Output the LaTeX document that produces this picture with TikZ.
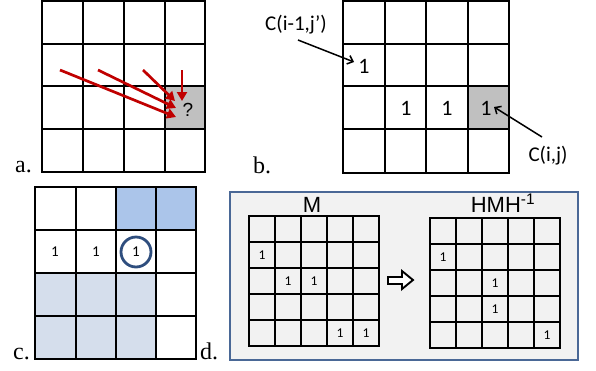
\documentclass[tikz,border=0pt]{standalone}
\usepackage{fontspec}
\setmainfont{Liberation Serif}
\newfontfamily\calfont{Carlito}
\newfontfamily\arialfont{Liberation Sans}
\usetikzlibrary{arrows.meta}
\definecolor{cellgray}{HTML}{C0C0C0}
\definecolor{arrred}{HTML}{C00000}
\definecolor{dotblue}{HTML}{ABC5EA}
\definecolor{dotpale}{HTML}{D5DEEC}
\definecolor{ringblue}{HTML}{2F4E7E}
\definecolor{panelbg}{HTML}{F2F2F2}
\definecolor{paneledge}{HTML}{4A6896}
\tikzset{
  gl/.style={line width=2pt, line cap=rect},
  plabel/.style={anchor=base west, inner sep=0pt, font=\fontsize{24}{24}\selectfont},
  onebig/.style={inner sep=0pt, font=\calfont\fontsize{22}{22}\selectfont},
  onemid/.style={inner sep=0pt, font=\calfont\fontsize{15}{15}\selectfont},
  onesmall/.style={inner sep=0pt, font=\calfont\fontsize{13.5}{13.5}\selectfont},
  redarr/.style={draw=arrred, line width=2.7pt, -{Triangle[length=9pt,width=10pt]}},
  blackarr/.style={draw=black, line width=1.5pt, -{Straight Barb[length=5pt,width=9pt,line width=1.5pt]}},
}
\begin{document}
\begin{tikzpicture}[x=1pt,y=-1pt]
\useasboundingbox (0,0) rectangle (596,370);

% ---------- panel a ----------
\fill[cellgray] (165,86) rectangle (205,129);
\foreach \xx in {42,83,124,165,205} \draw[gl] (\xx,1) -- (\xx,172);
\foreach \yy in {1,44,86,129,172} \draw[gl] (42,\yy) -- (205,\yy);
\node[inner sep=0pt, font=\arialfont\fontsize{19}{19}\selectfont] (q) at (188,110) {?};
\coordinate (a1s) at (60,70);  \coordinate (a1e) at (176,117);
\coordinate (a2s) at (98,70);  \coordinate (a2e) at (176,108);
\coordinate (a3s) at (143,70); \coordinate (a3e) at (175,101);
\coordinate (a4s) at (182,70); \coordinate (a4e) at (182,101);
\draw[redarr] (a1s) -- (a1e);
\draw[redarr] (a2s) -- (a2e);
\draw[redarr] (a3s) -- (a3e);
\draw[redarr] (a4s) -- (a4e);
\node[plabel] (la) at (15,172) {a.};

% ---------- panel b ----------
\fill[cellgray] (468,86) rectangle (509,129);
\foreach \xx in {343,385,426,468,509} \draw[gl] (\xx,1) -- (\xx,173);
\foreach \yy in {1,44,86,129,173} \draw[gl] (343,\yy) -- (509,\yy);
\node[onebig] (b21) at (364,66) {1};
\node[onebig] (b32) at (406,108) {1};
\node[onebig] (b33) at (447,108) {1};
\node[onebig] (b34) at (486,108) {1};
\node[inner sep=0pt, font=\calfont\fontsize{21}{21}\selectfont] (cprev) at (296,25) {C(i-1,j’)};
\node[inner sep=0pt, font=\calfont\fontsize{21}{21}\selectfont] (ccur) at (548,156) {C(i,j)};
\coordinate (cps) at (298,40); \coordinate (cpe) at (354,62);
\coordinate (ccs) at (542,137); \coordinate (cce) at (494,107);
\draw[blackarr] (cps) -- (cpe);
\draw[blackarr] (ccs) -- (cce);
\node[plabel] (lb) at (253,173) {b.};

% ---------- panel c ----------
\fill[dotblue] (116,187) rectangle (196,230);
\fill[dotpale] (35,273) rectangle (156,359);
\foreach \xx in {35,76,116,156,196} \draw[gl] (\xx,187) -- (\xx,359);
\foreach \yy in {187,230,273,316,359} \draw[gl] (35,\yy) -- (196,\yy);
\node[onemid] (c21) at (55,252) {1};
\node[onemid] (c22) at (96,252) {1};
\node[onemid] (c23) at (136,252) {1};
\draw[ringblue, line width=2.8pt] (c23) circle (15pt);
\node[plabel] (lc) at (13,359) {c.};
\node[plabel] (ld) at (200,359) {d.};

% ---------- panel d ----------
\node[draw=paneledge, fill=panelbg, line width=2pt, inner sep=0pt,
      minimum width=348pt, minimum height=168pt] (dbox) at (404,276) {};
\foreach \xx in {249,275,301,327,353,379} \draw[gl] (\xx,216) -- (\xx,346);
\foreach \yy in {216,242,268,294,320,346} \draw[gl] (249,\yy) -- (379,\yy);
\node[onesmall] (m21) at (262,255) {1};
\node[onesmall] (m32) at (288,281) {1};
\node[onesmall] (m33) at (314,281) {1};
\node[onesmall] (m54) at (340,333) {1};
\node[onesmall] (m55) at (366,333) {1};
\foreach \xx in {430,456,482,508,534,560} \draw[gl] (\xx,218) -- (\xx,348);
\foreach \yy in {218,244,270,296,322,348} \draw[gl] (430,\yy) -- (560,\yy);
\node[onesmall] (h21) at (443,257) {1};
\node[onesmall] (h33) at (495,283) {1};
\node[onesmall] (h43) at (495,309) {1};
\node[onesmall] (h55) at (547,335) {1};
\node[inner sep=0pt, anchor=base, font=\arialfont\fontsize{22}{22}\selectfont] (mlab) at (312,212) {M};
\node[inner sep=0pt, anchor=base, font=\arialfont\fontsize{22}{22}\selectfont] (hlab) at (503,212) {HMH\textsuperscript{-1}};
\draw[line width=1.9pt, fill=white, line join=miter]
  (388,277) -- (402,277) -- (402,271) -- (413,280) -- (402,289) -- (402,284) -- (388,284) -- cycle;
\end{tikzpicture}
\end{document}
